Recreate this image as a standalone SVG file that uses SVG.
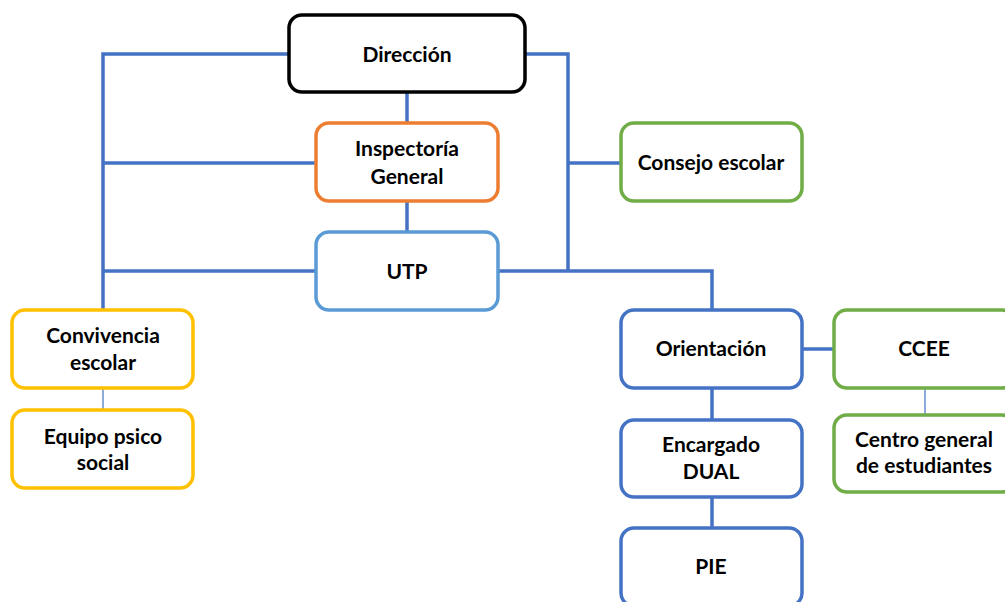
<svg xmlns="http://www.w3.org/2000/svg" width="1005" height="602" viewBox="0 0 1005 602">
<style>
.box{fill:#fff;stroke-width:3.5}
.t{font-family:Lato,"Liberation Sans",sans-serif;font-weight:bold;font-size:21px;fill:#000;text-anchor:middle}
.c{fill:none;stroke:#4472C4;stroke-width:3.5}
.thin{fill:none;stroke:#4472C4;stroke-width:1.2}
</style>
<rect width="1005" height="602" fill="#fff"/>
<g id="connectors">
<polyline class="c" points="289,54 103,54 103,310"/>
<line class="c" x1="103" y1="163" x2="316" y2="163"/>
<line class="c" x1="103" y1="271" x2="316" y2="271"/>
<line class="c" x1="407" y1="92" x2="407" y2="123"/>
<line class="c" x1="407" y1="201" x2="407" y2="232"/>
<polyline class="c" points="525,54 568,54 568,271"/>
<line class="c" x1="568" y1="163" x2="621" y2="163"/>
<polyline class="c" points="498,271 712,271 712,310"/>
<line class="c" x1="712" y1="388" x2="712" y2="420"/>
<line class="c" x1="712" y1="497" x2="712" y2="528"/>
<line class="c" x1="802" y1="349" x2="834" y2="349"/>
<line class="thin" x1="103" y1="388" x2="103" y2="410"/>
<line class="thin" x1="925" y1="388" x2="925" y2="415"/>
</g>
<g id="direccion"><rect class="box" x="289" y="15" width="236" height="77" rx="13" stroke="#000" stroke-width="4"/><text class="t" x="407" y="62">Dirección</text></g>
<g id="inspectoria"><rect class="box" x="316" y="123" width="182" height="78" rx="13" stroke="#ED7D31"/><text class="t" x="407" y="156">Inspectoría</text><text class="t" x="407" y="184">General</text></g>
<g id="utp"><rect class="box" x="316" y="232" width="182" height="78" rx="13" stroke="#5B9BD5"/><text class="t" x="407" y="279">UTP</text></g>
<g id="consejo"><rect class="box" x="621" y="123" width="181" height="78" rx="13" stroke="#70AD47"/><text class="t" x="711" y="170">Consejo escolar</text></g>
<g id="convivencia"><rect class="box" x="12" y="310" width="181" height="78" rx="13" stroke="#FFC000"/><text class="t" x="103" y="343">Convivencia</text><text class="t" x="103" y="370">escolar</text></g>
<g id="equipo"><rect class="box" x="12" y="410" width="181" height="78" rx="13" stroke="#FFC000"/><text class="t" x="103" y="444">Equipo psico</text><text class="t" x="103" y="470">social</text></g>
<g id="orientacion"><rect class="box" x="621" y="310" width="181" height="78" rx="13" stroke="#4472C4"/><text class="t" x="711" y="356">Orientación</text></g>
<g id="ccee"><rect class="box" x="834" y="310" width="181" height="78" rx="13" stroke="#70AD47"/><text class="t" x="924" y="356">CCEE</text></g>
<g id="encargado"><rect class="box" x="621" y="420" width="181" height="77" rx="13" stroke="#4472C4"/><text class="t" x="711" y="452">Encargado</text><text class="t" x="711" y="479">DUAL</text></g>
<g id="centro"><rect class="box" x="834" y="415" width="181" height="77" rx="13" stroke="#70AD47"/><text class="t" x="924" y="447">Centro general</text><text class="t" x="924" y="473">de estudiantes</text></g>
<g id="pie"><rect class="box" x="621" y="528" width="181" height="78" rx="13" stroke="#4472C4"/><text class="t" x="711" y="574">PIE</text></g>
</svg>
